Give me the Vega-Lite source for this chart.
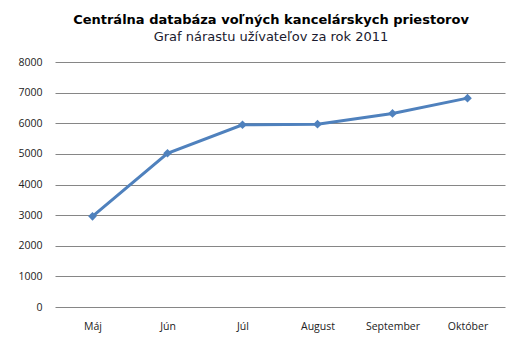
{
  "$schema": "https://vega.github.io/schema/vega-lite/v6.json",
  "width": 450,
  "height": 245,
  "autosize": {"type": "none"},
  "padding": {"left": 55, "top": 62, "right": 17, "bottom": 46},
  "background": "white",
  "title": {
    "text": "Centrálna databáza voľných kancelárskych priestorov",
    "subtitle": "Graf nárastu užívateľov za rok 2011",
    "font": "DejaVu Sans",
    "fontSize": 13,
    "fontWeight": "bold",
    "color": "#000000",
    "subtitleFont": "DejaVu Sans",
    "subtitleFontSize": 13,
    "subtitleColor": "#1a1a2e",
    "subtitlePadding": 4,
    "anchor": "middle",
    "dx": -9,
    "offset": 13
  },
  "data": {
    "values": [
      {"mesiac": "Máj", "pocet": 2960},
      {"mesiac": "Jún", "pocet": 5020},
      {"mesiac": "Júl", "pocet": 5950},
      {"mesiac": "August", "pocet": 5970},
      {"mesiac": "September", "pocet": 6320},
      {"mesiac": "Október", "pocet": 6820}
    ]
  },
  "mark": {
    "type": "line",
    "color": "#4F81BD",
    "strokeWidth": 3,
    "point": {"shape": "diamond", "size": 75, "filled": true, "color": "#4F81BD"}
  },
  "encoding": {
    "x": {
      "field": "mesiac",
      "type": "ordinal",
      "sort": null,
      "scale": {"padding": 0.5},
      "axis": {
        "title": null,
        "labelAngle": 0,
        "ticks": false,
        "domain": false,
        "labelPadding": 14,
        "labelFont": "Open Sans",
        "labelFontSize": 10.5,
        "labelColor": "#222222"
      }
    },
    "y": {
      "field": "pocet",
      "type": "quantitative",
      "scale": {"domain": [0, 8000], "nice": false},
      "axis": {
        "title": null,
        "format": "d",
        "values": [0, 1000, 2000, 3000, 4000, 5000, 6000, 7000, 8000],
        "ticks": false,
        "domain": false,
        "labelPadding": 13,
        "labelFont": "Open Sans",
        "labelFontSize": 10.5,
        "labelColor": "#222222",
        "gridColor": "#868686",
        "gridWidth": 1
      }
    }
  },
  "config": {
    "view": {"stroke": null},
    "axisX": {"grid": false}
  }
}
